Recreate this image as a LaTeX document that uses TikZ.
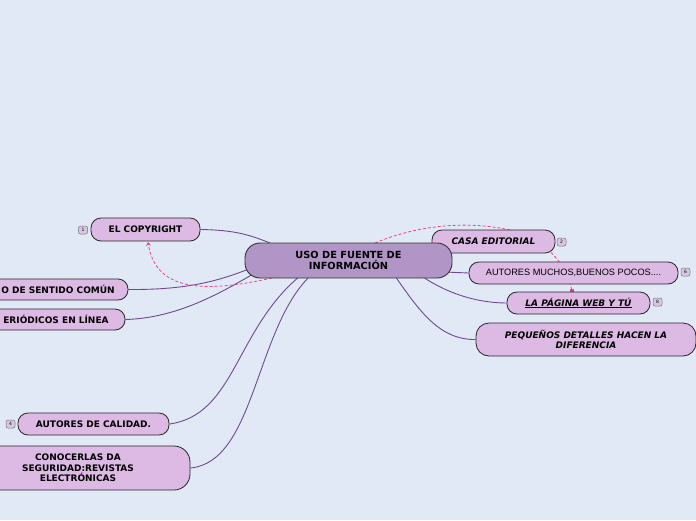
\documentclass[tikz,border=0pt]{standalone}
\usepackage{fontspec}
\setmainfont{DejaVu Sans}
\newfontfamily\arialfont{Liberation Sans}
\usetikzlibrary{arrows.meta,calc}
\definecolor{bgc}{HTML}{E1E9F7}
\definecolor{mainfill}{HTML}{B195C6}
\definecolor{subfill}{HTML}{DDBAE4}
\definecolor{linec}{HTML}{6E4A8E}
\definecolor{dashc}{HTML}{E8467C}
\definecolor{badgefill}{HTML}{D9C6E4}
\tikzset{
  mainbox/.style={draw=black!80, line width=0.9pt, fill=mainfill, rounded corners=15pt, align=center, font=\fontsize{9.8}{10.5}\selectfont\bfseries, inner sep=0pt},
  subbox/.style={draw=black!85, line width=0.8pt, fill=subfill, rounded corners=10pt, align=center, font=\fontsize{9}{10.5}\selectfont\bfseries, inner sep=0pt},
  badge/.style={draw=black!55, line width=0.5pt, fill=badgefill, rounded corners=2pt, minimum width=9pt, minimum height=8pt, inner sep=0pt, font=\fontsize{4.5}{5}\selectfont},
  conn/.style={draw=linec, line width=0.9pt},
  rel/.style={draw=dashc, line width=0.8pt, dash pattern=on 3pt off 2pt},
}
\begin{document}
\begin{tikzpicture}[x=1pt,y=-1pt]
\fill[bgc] (0,0) rectangle (696,520);
\useasboundingbox (0,0) rectangle (696,520);
\clip (0,0) rectangle (696,520);
% anchor points
\coordinate (c1) at (270,243);
\coordinate (c2) at (249,269);
\coordinate (c3) at (255,273);
\coordinate (c4) at (300,276);
\coordinate (c5) at (310,276);
\coordinate (c6) at (445,272);
\coordinate (c7) at (423,277);
\coordinate (c8) at (395,276);
\coordinate (d1) at (272,278);
\coordinate (d2) at (375,243);
\coordinate (d3) at (572,291);
% sub nodes
\node[subbox, minimum width=140pt, minimum height=21pt] (sent) at (58,289.5) {O DE SENTIDO COMÚN};
\node[subbox, minimum width=138pt, minimum height=21pt] (peri) at (56,319.5) {ERIÓDICOS EN LÍNEA};
\node[subbox, minimum width=109pt, minimum height=23pt] (copy) at (145.5,229.5) {EL COPYRIGHT};
\node[subbox, minimum width=151pt, minimum height=22pt] (acal) at (93.5,424) {AUTORES DE CALIDAD.};
\node[subbox, minimum width=224pt, minimum height=44pt, rounded corners=16pt] (cono) at (78,468) {CONOCERLAS DA\\SEGURIDAD:REVISTAS\\ELECTRÓNICAS};
% connectors
\draw[conn] (copy.east) .. controls (235,230) and (250,235) .. (c1);
\draw[conn] (sent.east) .. controls (190,290) and (220,280) .. (c2);
\draw[conn] (peri.east) .. controls (180,318) and (225,290) .. (c3);
\draw[conn] (acal.east) .. controls (235,415) and (235,330) .. (c4);
\draw[conn] (cono.east) .. controls (255,462) and (255,330) .. (c5);
% dashed relation behind casa
\draw[rel] (d2) .. controls (420,224) and (470,221) .. (510,230) .. controls (545,240) and (566,262) .. (d3);
\fill[dashc] ($(d3)+(-1.8,-1.8)$) rectangle ($(d3)+(1.8,1.8)$);
\node[subbox, minimum width=123pt, minimum height=23pt, font=\fontsize{9}{10.5}\selectfont\bfseries\itshape] (casa) at (493.5,241.5) {CASA EDITORIAL};
\node[subbox, minimum width=209pt, minimum height=22pt, font=\fontsize{9.2}{10.5}\selectfont\arialfont] (amuc) at (573.5,273) {AUTORES MUCHOS,BUENOS POCOS....};
\node[subbox, minimum width=143pt, minimum height=22pt, font=\fontsize{9}{10.5}\selectfont\bfseries\itshape] (pag) at (578.5,303) {\underline{LA PÁGINA WEB Y TÚ}};
\node[subbox, minimum width=220pt, minimum height=33pt, rounded corners=13pt, font=\fontsize{9}{10.5}\selectfont\bfseries\itshape] (peq) at (586,339.5) {PEQUEÑOS DETALLES HACEN LA\\DIFERENCIA};
\draw[conn] (c6) -- (amuc.west);
\draw[conn] (c7) .. controls (450,295) and (480,303) .. (pag.west);
\draw[conn] (c8) .. controls (420,312) and (440,340) .. (peq.west);
\draw[rel, -{Straight Barb[length=3pt,width=4pt]}] (d1) .. controls (200,294) and (155,290) .. (148,242);
% main node
\node[mainbox, minimum width=207pt, minimum height=35pt] (main) at (348.5,260.5) {USO DE FUENTE DE\\INFORMACIÓN};
% badges
\node[badge] (b1) at (83,230) {1};
\node[badge] (b2) at (561.5,242) {2};
\node[badge] (b6) at (685.5,272) {6};
\node[badge] (b8) at (657.5,302) {8};
\node[badge] (b4) at (10.5,424) {4};
\end{tikzpicture}
\end{document}
